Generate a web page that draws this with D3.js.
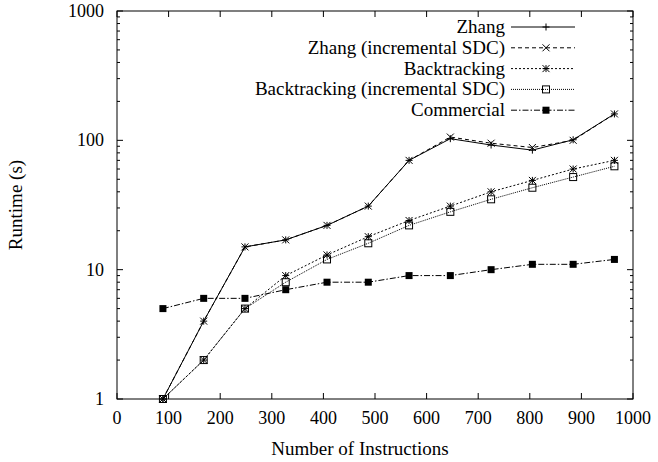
<!DOCTYPE html>
<html>
<head>
<meta charset="UTF-8">
<style>
  body { margin: 0; background: white; }
</style>
</head>
<body>
<svg></svg>
<script src="https://d3js.org/d3.v7.min.js"></script>
<script>
// data
let instr = [89, 168, 248, 327, 407, 487, 566, 646, 725, 805, 884, 964];
let zhang = [1, 4, 15, 17, 22, 31, 70, 103, 92, 84, 101, 160];
let zhangInc = [1, 4, 15, 17, 22, 31, 70, 106, 95, 88, 100, 160];
let backtrack = [1, 2, 5, 9, 13, 18, 24, 31, 40, 49, 60, 70];
let backtrackInc = [1, 2, 5, 8, 12, 16, 22, 28, 35, 43, 52, 63];
let commercial = [5, 6, 6, 7, 8, 8, 9, 9, 10, 11, 11, 12];
let seriesNames = ["Zhang", "Zhang (incremental SDC)", "Backtracking", "Backtracking (incremental SDC)", "Commercial"];
let xTicks = [0, 100, 200, 300, 400, 500, 600, 700, 800, 900, 1000];
let yTicks = [1, 10, 100, 1000];

let width = 658, height = 462;
let svg = d3.select("svg").attr("width", width).attr("height", height);

function label(sel, size) {
  return sel.attr("font-family", "Liberation Serif")
    .style("font-family", '"Liberation Serif"')
    .style("font-size", (size || 18) + "px");
}

let x = d3.scaleLinear().domain([0, 1000]).range([117, 633]);
let y = d3.scaleLog().domain([1, 1000]).range([399, 11]);

let series = [
  {name: seriesNames[0], vals: zhang, dash: null, mark: "plus"},
  {name: seriesNames[1], vals: zhangInc, dash: "4,3", mark: "cross"},
  {name: seriesNames[2], vals: backtrack, dash: "2,2", mark: "star"},
  {name: seriesNames[3], vals: backtrackInc, dash: "1,1", mark: "box"},
  {name: seriesNames[4], vals: commercial, dash: "6,2,1.5,2", mark: "fbox"}
];

// frame
svg.append("rect").attr("x", 117).attr("y", 11).attr("width", 516).attr("height", 388)
  .attr("fill", "none").attr("stroke", "black").attr("stroke-width", 1);

let axes = svg.append("g").attr("stroke", "black").attr("stroke-width", 1);
xTicks.forEach(t => {
  axes.append("line").attr("x1", x(t)).attr("x2", x(t)).attr("y1", 399).attr("y2", 393);
  axes.append("line").attr("x1", x(t)).attr("x2", x(t)).attr("y1", 11).attr("y2", 17);
});
let minor = y.ticks();
minor.forEach(t => {
  let major = yTicks.indexOf(t) >= 0;
  let len = major ? 6 : 3;
  axes.append("line").attr("x1", 117).attr("x2", 117 + len).attr("y1", y(t)).attr("y2", y(t));
  axes.append("line").attr("x1", 633).attr("x2", 633 - len).attr("y1", y(t)).attr("y2", y(t));
});

svg.selectAll("text.xt").data(xTicks).enter().append("text")
  .attr("x", d => x(d)).attr("y", 424).attr("text-anchor", "middle").text(d => d).call(label, 18);
svg.selectAll("text.yt").data(yTicks).enter().append("text")
  .attr("x", 104).attr("y", d => y(d) + 6).attr("text-anchor", "end").text(d => d).call(label, 18);

svg.append("text").attr("x", 360).attr("y", 455).attr("text-anchor", "middle").text("Number of Instructions").call(label, 19);
svg.append("text").attr("transform", "translate(22,205) rotate(-90)").attr("text-anchor", "middle").text("Runtime (s)").call(label, 19);

function drawMark(g, kind, cx, cy) {
  let s = 3.5;
  if (kind === "plus" || kind === "star") {
    g.append("path").attr("d", `M${cx - s},${cy}H${cx + s}M${cx},${cy - s}V${cy + s}`)
      .attr("stroke", "black").attr("fill", "none");
  }
  if (kind === "cross" || kind === "star") {
    g.append("path").attr("d", `M${cx - s},${cy - s}L${cx + s},${cy + s}M${cx - s},${cy + s}L${cx + s},${cy - s}`)
      .attr("stroke", "black").attr("fill", "none");
  }
  if (kind === "box") {
    g.append("rect").attr("x", cx - 3.5).attr("y", cy - 3.5).attr("width", 7).attr("height", 7)
      .attr("fill", "none").attr("stroke", "black");
  }
  if (kind === "fbox") {
    g.append("rect").attr("x", cx - 3.5).attr("y", cy - 3.5).attr("width", 7).attr("height", 7)
      .attr("fill", "black");
  }
}

let line = d3.line().x(d => x(d[0])).y(d => y(d[1]));

series.forEach((s, i) => {
  let g = svg.append("g");
  let pts = instr.map((v, j) => [v, s.vals[j]]);
  g.append("path").datum(pts).attr("d", line).attr("fill", "none")
    .attr("stroke", "black").attr("stroke-width", 1).attr("stroke-dasharray", s.dash);
  pts.forEach(p => drawMark(g, s.mark, x(p[0]), y(p[1])));

  // legend
  let ly = 27 + i * 20.8;
  svg.append("text").attr("x", 505).attr("y", ly + 6).attr("text-anchor", "end").text(s.name).call(label, 19);
  g.append("line").attr("x1", 511).attr("x2", 575).attr("y1", ly).attr("y2", ly)
    .attr("stroke", "black").attr("stroke-dasharray", s.dash);
  drawMark(g, s.mark, 546, ly);
});
</script>
</body>
</html>
